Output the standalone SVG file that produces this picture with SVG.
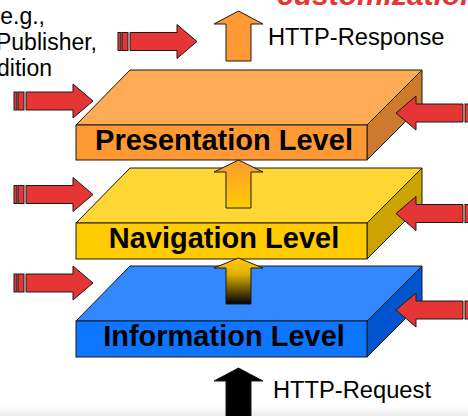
<svg xmlns="http://www.w3.org/2000/svg" width="468" height="416" viewBox="0 0 468 416">
  <style>
    .edge { stroke: #1a1a1a; stroke-width: 1; stroke-linejoin: miter; }
    .lvl { font-family: "Liberation Sans", Arial, sans-serif; font-weight: bold; font-size: 29px; fill: #000; text-anchor: middle; }
    .lbl { font-family: "Liberation Sans", Arial, sans-serif; font-size: 23.7px; fill: #000; }
    .note { font-family: "Liberation Sans", Arial, sans-serif; font-size: 23px; fill: #000; text-anchor: end; }
    .red { fill: #e53535; stroke: #1a1a1a; stroke-width: 1; }
  </style>
  <defs>
    <!-- feed arrow, tip at the origin, pointing right -->
    <g id="feed">
      <rect class="red" x="-79" y="-9" width="3" height="18"/>
      <rect class="red" x="-75" y="-9" width="6" height="18"/>
      <path class="red" d="M-67,-9 H-20 V-17 L0,0 L-20,17 V9 H-67 Z"/>
    </g>
    <linearGradient id="orangeToYellow" x1="0" y1="0" x2="0" y2="1">
      <stop offset="0" stop-color="#ff9933"/>
      <stop offset="1" stop-color="#ffcc00"/>
    </linearGradient>
    <linearGradient id="yellowToBlack" x1="0" y1="0" x2="0" y2="1">
      <stop offset="0" stop-color="#ffcc00"/>
      <stop offset="0.35" stop-color="#e0b000"/>
      <stop offset="1" stop-color="#000000"/>
    </linearGradient>
    <linearGradient id="floor" x1="0" y1="0" x2="0" y2="1">
      <stop offset="0" stop-color="#ffffff"/>
      <stop offset="1" stop-color="#ececec"/>
    </linearGradient>
  </defs>

  <rect x="0" y="0" width="468" height="416" fill="#ffffff"/>
  <rect x="0" y="406" width="468" height="10" fill="url(#floor)"/>

  <!-- heading, cut by the top edge -->
  <text x="277" y="5" font-family="'Liberation Sans', Arial, sans-serif" font-size="30" font-weight="bold" font-style="italic" fill="#e53535">customization</text>

  <!-- side note -->
  <text class="note" x="45" y="24">e.g.,</text>
  <text class="note" x="97" y="50">Publisher,</text>
  <text class="note" x="52" y="76">dition</text>

  <!-- Presentation level slab -->
  <g id="presentation">
    <polygon class="edge" points="130,70 422,70 367,125 76,125" fill="#ffaa55"/>
    <polygon class="edge" points="367,125 422,70 422,105 367,160" fill="#cc7a2b"/>
    <rect class="edge" x="76" y="125" width="291" height="35" fill="#ff9933"/>
    <text class="lvl" x="224" y="150">Presentation Level</text>
  </g>

  <!-- Navigation level slab -->
  <g id="navigation">
    <polygon class="edge" points="130,168 422,168 367,223 76,223" fill="#ffd633"/>
    <polygon class="edge" points="367,223 422,168 422,204 367,259" fill="#cca300"/>
    <rect class="edge" x="76" y="223" width="291" height="36" fill="#ffcc00"/>
    <text class="lvl" x="224" y="248">Navigation Level</text>
  </g>

  <!-- Information level slab -->
  <g id="information">
    <polygon class="edge" points="130,266 422,266 367,321 76,321" fill="#3388ff"/>
    <polygon class="edge" points="367,321 422,266 422,302 367,357" fill="#0055cc"/>
    <rect class="edge" x="76" y="321" width="291" height="36" fill="#0d75ff"/>
    <text class="lvl" x="224" y="346">Information Level</text>
  </g>

  <!-- connectors -->
  <g id="connectors">
    <!-- request / response flow -->
    <path class="edge" d="M238.5,368 L263,381 H251 V420 H226 V381 H214 Z" fill="#000000"/>
    <path class="edge" d="M238.5,258 L263,268 H251 V304 H226 V268 H214 Z" fill="url(#yellowToBlack)"/>
    <path class="edge" d="M238.5,160 L263,172 H251 V208 H226 V172 H214 Z" fill="url(#orangeToYellow)"/>
    <path class="edge" d="M238.5,11 L263,24 H251 V61 H226 V24 H214 Z" fill="#ff9933"/>

    <!-- customization inputs from the left -->
    <use href="#feed" transform="translate(197,41.5)"/>
    <use href="#feed" transform="translate(93,101)"/>
    <use href="#feed" transform="translate(93,194.5)"/>
    <use href="#feed" transform="translate(93,283)"/>

    <!-- customization inputs from the right -->
    <use href="#feed" transform="translate(396,113) scale(-1,1)"/>
    <use href="#feed" transform="translate(396,213.5) scale(-1,1)"/>
    <use href="#feed" transform="translate(396,310) scale(-1,1)"/>
  </g>

  <text class="lbl" x="268" y="45">HTTP-Response</text>
  <text class="lbl" x="273" y="398">HTTP-Request</text>
</svg>
